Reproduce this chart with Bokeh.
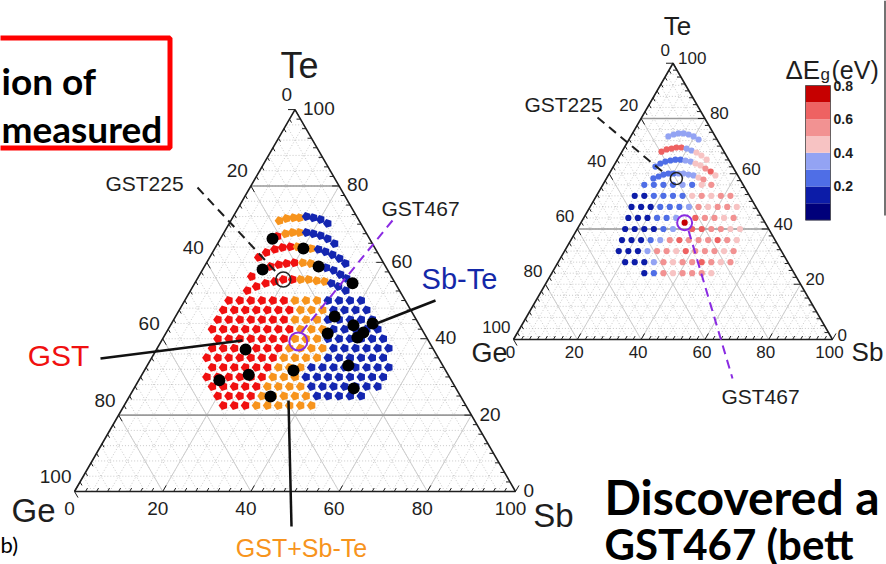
import numpy as np
from bokeh.plotting import figure
from bokeh.models import Range1d, LinearColorMapper, ColumnDataSource
from bokeh.embed import file_html
from bokeh.resources import INLINE
from bokeh.core.properties import value

# ======================= DATA =======================
axis_ticks = [0, 20, 40, 60, 80, 100]

# ---- left map: phase found at each library composition (Sb at.%, Te at.%; Ge = rest)
gst_arc_sb = [12.6, 11.1, 12.2, 13.7, 15.2, 16.9, 12.0, 15.0, 16.6, 18.2, 19.9, 12.9, 14.4, 16.1, 17.9, 19.6, 21.7]
gst_arc_te = [66.8, 61.3, 62.6, 63.4, 63.9, 64.1, 56.3, 58.9, 59.4, 59.7, 59.9, 52.6, 53.7, 54.5, 55.0, 55.5, 55.5]
mix_arc_sb = [11.0, 12.3, 13.8, 15.2, 14.1, 15.5, 17.1, 18.5, 21.9, 21.8, 23.7, 23.5, 25.3, 27.3, 29.2]
mix_arc_te = [70.9, 71.5, 71.7, 71.7, 67.5, 67.8, 67.8, 64.1, 63.6, 59.9, 59.7, 55.5, 55.5, 55.2, 55.0]
sbte_arc_sb = [16.6, 18.3, 20.2, 22.3, 18.7, 20.4, 22.3, 24.3, 26.5, 23.6, 25.5, 27.5, 29.6, 31.6,
               27.8, 29.8, 31.9, 33.8, 31.0, 33.0, 35.2]
sbte_arc_te = [72.0, 71.7, 71.2, 70.2, 67.8, 67.5, 67.0, 66.2, 64.9, 63.4, 62.8, 62.0, 61.0, 59.7,
               58.6, 57.9, 56.8, 55.8, 54.5, 53.7, 52.6]

row_te = [50, 47.5, 45, 42.5, 40, 37.5, 35, 32.5, 30, 27.5, 25, 22.5]
gst_row_sb = [
    [10, 12.5, 15, 17.5, 20, 22.5],
    [10, 12.5, 15, 17.5, 20, 22.5, 25],
    [10, 12.5, 15, 17.5, 20, 22.5, 25],
    [10, 12.5, 15, 17.5, 20, 22.5, 25, 27.5],
    [12.5, 15, 17.5, 20, 22.5, 25, 27.5],
    [12.5, 15, 17.5, 20, 22.5, 25, 27.5],
    [12.5, 15, 17.5, 20, 22.5, 25, 27.5],
    [15, 17.5, 20, 22.5, 25, 27.5],
    [15, 17.5, 20, 22.5, 25, 27.5],
    [17.5, 20, 22.5, 25, 27.5],
    [20, 22.5, 25, 27.5],
    [22.5, 25, 27.5],
]
mix_row_sb = [
    [25, 27.5, 30],
    [27.5, 30, 32.5],
    [27.5, 30, 32.5],
    [30, 32.5, 35],
    [30, 32.5, 35],
    [30, 32.5, 35, 37.5],
    [30, 32.5, 35, 37.5],
    [30, 32.5, 35],
    [30, 32.5, 35],
    [30, 32.5, 35, 37.5],
    [30, 32.5, 35, 37.5, 40],
    [30, 32.5, 35, 37.5, 40, 42.5],
]
sbte_row_sb = [
    [32.5, 35, 37.5, 40],
    [35, 37.5, 40, 42.5],
    [35, 37.5, 40, 42.5, 45],
    [37.5, 40, 42.5, 45, 47.5],
    [37.5, 40, 42.5, 45, 47.5, 50],
    [40, 42.5, 45, 47.5, 50, 52.5],
    [40, 42.5, 45, 47.5, 50, 52.5],
    [37.5, 40, 42.5, 45, 47.5, 50, 52.5, 55],
    [37.5, 40, 42.5, 45, 47.5, 50, 52.5, 55],
    [40, 42.5, 45, 47.5, 50, 52.5, 55],
    [42.5, 45, 47.5, 50, 52.5],
    [],
]
meas_sb = [11.8, 20.1, 13.6, 25.9, 35.8, 36.1, 41.5, 45.6, 44.7, 44.0, 36.7, 20.2, 45.6, 33.8, 18.3, 24.2, 49.8, 32.0]
meas_te = [66.2, 63.6, 58.1, 58.9, 54.5, 45.8, 43.5, 44.0, 41.6, 40.3, 41.4, 37.2, 33.0, 31.7, 29.1, 30.6, 27.0, 24.9]
gst225_left = (19.6, 55.5)
gst467_left = (31.1, 39.3)

# ---- right map: band-gap change dEg (eV) at each composition
eg_arc_sb = [
    [11.8, 13.1, 14.4, 16.0, 17.8, 19.7, 21.8],
    [12.4, 13.6, 15.0, 16.3, 17.9, 19.7, 21.6, 23.5, 25.6, 28.0],
    [13.2, 14.2, 15.4, 16.8, 18.2, 19.8, 21.5, 23.3, 25.2, 27.1, 29.2, 31.4, 33.6],
    [14.7, 16.0, 17.2, 18.5, 20.1, 21.7, 23.2, 25.0, 26.7, 28.7, 30.6],
]
eg_arc_te = [
    [73.5, 74.2, 74.6, 74.6, 74.2, 73.5, 72.4],
    [68.0, 68.8, 69.1, 69.5, 69.5, 69.1, 68.4, 67.7, 66.6, 65.1],
    [62.6, 63.7, 64.4, 64.8, 65.1, 65.1, 64.8, 64.4, 63.7, 63.0, 61.9, 60.8, 59.4],
    [58.3, 59.0, 59.7, 60.1, 60.1, 60.1, 60.1, 59.7, 59.4, 58.6, 57.9],
]
eg_arc_val = [
    [0.35, 0.35, 0.35, 0.35, 0.35, 0.35, 0.35],
    [0.65, 0.65, 0.65, 0.65, 0.65, 0.35, 0.35, 0.45, 0.45, 0.45],
    [0.25, 0.25, 0.25, 0.25, 0.25, 0.25, 0.35, 0.35, 0.45, 0.45, 0.55, 0.65, 0.45],
    [0.25, 0.25, 0.25, 0.25, 0.25, 0.35, 0.35, 0.35, 0.35, 0.45, 0.55],
]
eg_row_te = [56, 52, 48, 44, 40, 36, 32, 28, 24]
eg_row_sb = [
    [13, 16, 19, 22, 25, 28, 31, 34],
    [12, 15, 18, 21, 24, 27, 30, 33, 36, 39, 42],
    [13, 16, 19, 22, 25, 28, 31, 34, 37, 40, 43, 46],
    [14, 17, 20, 23, 26, 29, 35, 38, 41, 44, 47],
    [15, 18, 21, 24, 27, 30, 36, 39, 42, 45, 48, 51],
    [16, 19, 22, 25, 28, 31, 34, 37, 40, 43, 46, 49, 52],
    [17, 20, 23, 26, 29, 32, 35, 38, 41, 44, 47, 50, 53],
    [21, 24, 27, 30, 33, 36, 39, 42, 45, 48, 51, 54],
    [29, 32, 35, 38, 41, 44, 47, 50],
]
eg_row_val = [
    [0.25, 0.25, 0.25, 0.25, 0.35, 0.25, 0.45, 0.55],
    [0.15, 0.15, 0.25, 0.25, 0.25, 0.25, 0.45, 0.55, 0.45, 0.55, 0.55],
    [0.15, 0.15, 0.15, 0.25, 0.25, 0.25, 0.35, 0.55, 0.45, 0.55, 0.55, 0.45],
    [0.15, 0.15, 0.15, 0.25, 0.25, 0.35, 0.65, 0.55, 0.55, 0.45, 0.55],
    [0.15, 0.15, 0.15, 0.15, 0.25, 0.35, 0.65, 0.65, 0.55, 0.55, 0.45, 0.45],
    [0.15, 0.15, 0.15, 0.25, 0.35, 0.55, 0.65, 0.55, 0.55, 0.55, 0.65, 0.55, 0.45],
    [0.15, 0.15, 0.15, 0.35, 0.55, 0.55, 0.45, 0.65, 0.55, 0.55, 0.55, 0.45, 0.55],
    [0.15, 0.15, 0.15, 0.35, 0.55, 0.45, 0.55, 0.55, 0.65, 0.55, 0.45, 0.55],
    [0.15, 0.25, 0.55, 0.45, 0.55, 0.55, 0.55, 0.45],
]
gst225_right = (21.9, 58.3)
gst467_right = (32.5, 42.3)
gst467_right_val = 0.75

cbar_edges = [0.0, 0.1, 0.2, 0.3, 0.4, 0.5, 0.6, 0.7, 0.8]
cbar_colors = ["#00007a", "#0c1ca8", "#4f6ee6", "#93a3f3", "#f7c3c3", "#f29292", "#ee6262", "#c60000"]
cbar_ticks = [0.2, 0.4, 0.6, 0.8]

# ======================= LAYOUT =======================
W, H = 886, 564
K1, O1 = 4.41, (74.0, 491.0)     # left triangle: px per at.%, Ge corner on canvas
K2, O2 = 3.19, (513.0, 339.0)    # right triangle
S3 = np.sqrt(3) / 2
FONT = "Liberation Sans"
RED, ORANGE, BLUE = "#f01010", "#f7941d", "#1426b0"
PURPLE = "#8a2be2"
CB_Y08, CB_PX_PER_EV = 85.0, 168.3

p = figure(width=W, height=H, output_backend="svg", toolbar_location=None,
           x_range=Range1d(-O1[0] / K1, (W - O1[0]) / K1),
           y_range=Range1d(-(H - O1[1]) / K1, O1[1] / K1),
           x_axis_location=None, y_axis_location=None, min_border=0,
           outline_line_color=None, background_fill_color="white", border_fill_color="white")
p.grid.visible = False
p.extra_x_ranges = {"r": Range1d(-O2[0] / K2, (W - O2[0]) / K2), "px": Range1d(0, W)}
p.extra_y_ranges = {"r": Range1d(-(H - O2[1]) / K2, O2[1] / K2), "px": Range1d(H, 0),
                    "cb": Range1d(0.8 - (H - CB_Y08) / CB_PX_PER_EV, 0.8 + CB_Y08 / CB_PX_PER_EV)}
PX = dict(x_range_name="px", y_range_name="px")


def tc(sb, te):
    sb = np.asarray(sb, dtype=float)
    te = np.asarray(te, dtype=float)
    return sb + te / 2.0, te * S3


def flat_rows(levels, rows):
    s, t = [], []
    for lv, r in zip(levels, rows):
        s += list(r)
        t += [lv] * len(r)
    return s, t


def ternary(rn, k, fs, off_l, off_r, off_b, hlines):
    kw = dict(x_range_name=rn, y_range_name=rn)
    gx, gy = [], []
    for v in range(4, 100, 4):
        for s0, t0, s1, t1 in [(0, v, 100 - v, v), (v, 0, v, 100 - v), (100 - v, 0, 0, 100 - v)]:
            x0, y0 = tc(s0, t0)
            x1, y1 = tc(s1, t1)
            gx.append([x0, x1]); gy.append([y0, y1])
    p.multi_line(gx, gy, line_color="#bcbcbc", line_width=0.8, line_dash="1 2", **kw)
    sx, sy = [], []
    for v in axis_ticks[1:-1]:
        for s0, t0, s1, t1 in [(v, 0, v, 100 - v), (100 - v, 0, 0, 100 - v)]:
            x0, y0 = tc(s0, t0)
            x1, y1 = tc(s1, t1)
            sx.append([x0, x1]); sy.append([y0, y1])
    p.multi_line(sx, sy, line_color="#cdcdcd", line_width=1, **kw)
    hx, hy = [], []
    for v in hlines:
        x0, y0 = tc(0, v)
        x1, y1 = tc(100 - v, v)
        hx.append([x0, x1]); hy.append([y0, y1])
    p.multi_line(hx, hy, line_color="#9a9a9a", line_width=1.6, **kw)
    ex, ey = tc([0, 100, 0, 0], [0, 0, 100, 0])
    p.line(ex, ey, line_color="#1e1e1e", line_width=1.6, **kw)
    tx, ty = [], []
    for v in np.arange(0, 100.01, 2.5):
        L = (7.0 if v % 20 == 0 else 4.0) / k
        x0, y0 = tc(v, 0); tx.append([x0, x0 + L * 0.5]); ty.append([y0, y0 + L * S3])
        x0, y0 = tc(0, 100 - v); tx.append([x0, x0 + L * 0.5]); ty.append([y0, y0 - L * S3])
        x0, y0 = tc(100 - v, v); tx.append([x0, x0 - L]); ty.append([y0, y0])
    p.multi_line(tx, ty, line_color="#1e1e1e", line_width=1.0, **kw)
    labs = [str(v) for v in axis_ticks]
    n = len(axis_ticks)
    common = dict(text_font=value(FONT), text_font_size=fs, text_color="#1e1e1e", **kw)
    lx, ly = tc([0] * n, [100 - v for v in axis_ticks])
    p.text(lx, ly, text=labs, text_align="right", text_baseline="middle",
           x_offset=off_l[0], y_offset=off_l[1], **common)
    rx, ry = tc([100 - v for v in axis_ticks], axis_ticks)
    p.text(rx, ry, text=labs, text_align="left", text_baseline="middle",
           x_offset=off_r[0], y_offset=off_r[1], **common)
    bx, by = tc(axis_ticks, [0] * n)
    p.text(bx, by, text=labs, text_align="center", text_baseline="top",
           x_offset=off_b[0], y_offset=off_b[1], **common)


def pentagons(sb, te, color):
    x, y = tc(sb, te)
    try:
        p.ngon(x=x, y=y, radius=4.7, radius_units="screen", n=5, angle=np.pi / 2,
               fill_color=color, line_color=None)
    except Exception:
        p.scatter(x, y, marker="hex", size=9, fill_color=color, line_color=None)


# ---------------- left ternary ----------------
ternary("default", K1, "19px", (-3, -15), (8, -1), (-5, 10), [20, 80])

for arc_s, arc_t, rows, col in [(gst_arc_sb, gst_arc_te, gst_row_sb, RED),
                                (mix_arc_sb, mix_arc_te, mix_row_sb, ORANGE),
                                (sbte_arc_sb, sbte_arc_te, sbte_row_sb, BLUE)]:
    rs, rt = flat_rows(row_te, rows)
    pentagons(list(arc_s) + rs, list(arc_t) + rt, col)

mx, my = tc(meas_sb, meas_te)
p.scatter(mx, my, marker="circle", size=12, fill_color="black", line_color=None)
gx_, gy_ = tc(*gst225_left)
p.scatter([gx_], [gy_], marker="circle", size=15, fill_color=None, line_color="#222222", line_width=1.6)
gx_, gy_ = tc(*gst467_left)
p.scatter([gx_], [gy_], marker="circle", size=18, fill_color=None, line_color=PURPLE, line_width=2)

# ---------------- right ternary ----------------
RK = dict(x_range_name="r", y_range_name="r")
ternary("r", K2, "17px", (-3, -13), (5, -5), (-3, 6), [40, 80])
mapper = LinearColorMapper(palette=cbar_colors, low=cbar_edges[0], high=cbar_edges[-1])
es, et, ev = [], [], []
for a, b, c in zip(eg_arc_sb, eg_arc_te, eg_arc_val):
    es += a; et += b; ev += c
rs, rt = flat_rows(eg_row_te, eg_row_sb)
es += rs; et += rt
for c in eg_row_val:
    ev += c
es.append(gst467_right[0]); et.append(gst467_right[1]); ev.append(gst467_right_val)
ex_, ey_ = tc(es, et)
src = ColumnDataSource(dict(x=ex_, y=ey_, v=ev))
p.scatter("x", "y", source=src, marker="circle", size=6.2, line_color=None,
          fill_color={"field": "v", "transform": mapper}, **RK)
hx_, hy_ = tc(*gst225_right)
p.scatter([hx_], [hy_], marker="circle", size=12, fill_color=None, line_color="#222222", line_width=1.5, **RK)
hx_, hy_ = tc(*gst467_right)
p.scatter([hx_], [hy_], marker="circle", size=15, fill_color=None, line_color=PURPLE, line_width=2, **RK)

# colour bar
p.quad(left=805, right=830, bottom=cbar_edges[:-1], top=cbar_edges[1:], fill_color=cbar_colors,
       line_color=None, x_range_name="px", y_range_name="cb")
p.quad(left=[805], right=[830], bottom=[cbar_edges[0]], top=[cbar_edges[-1]], fill_color=None,
       line_color="#444444", line_width=0.8, x_range_name="px", y_range_name="cb")
p.text([833] * len(cbar_ticks), cbar_ticks, text=["%.1f" % t for t in cbar_ticks],
       text_align="left", text_baseline="middle", text_font=value(FONT), text_font_size="14px",
       text_font_style="bold", text_color="#1e1e1e", x_range_name="px", y_range_name="cb")
p.line([884.5, 884.5], [0, 215], line_color="#444444", line_width=1.5, **PX)


def lbl(x, y, t, fs, col="#1e1e1e", align="center", base="middle", font=FONT, style="normal"):
    p.text([x], [y], text=[t], text_font=value(font), text_font_size=fs, text_color=col,
           text_align=align, text_baseline=base, text_font_style=style, **PX)


lbl(785, 69, "\u0394E", "26px", align="left", base="alphabetic")
lbl(820, 74, "g", "17px", align="left", base="alphabetic")
lbl(831, 69, "(eV)", "25px", align="left", base="alphabetic")

# ---------------- annotations ----------------
lbl(299, 65, "Te", "36px")
lbl(33, 510, "Ge", "33px")
lbl(553, 515, "Sb", "33px")
lbl(677, 25, "Te", "26px")
lbl(489, 352, "Ge", "27px")
lbl(867, 351, "Sb", "26px")

lbl(144, 183, "GST225", "21px")
lbl(420, 208, "GST467", "21px")
lbl(563, 104, "GST225", "21px")
lbl(760, 396, "GST467", "21px")
lbl(58, 355, "GST", "30px", RED)
lbl(459, 278, "Sb-Te", "29px", "#1428a8")
lbl(301, 547, "GST+Sb-Te", "25px", ORANGE)

p.multi_line([[197, 277], [597, 663]], [[187, 273], [117, 172]], line_color="#1e1e1e",
             line_width=2, line_dash="9 6", **PX)
p.multi_line([[392, 300], [688, 732]], [[220, 333], [230, 378]], line_color=PURPLE,
             line_width=2, line_dash="9 6", **PX)
p.multi_line([[435, 376], [100, 242], [288, 291]], [[300, 323], [358, 340], [400, 526]],
             line_color="#111111", line_width=2.5, **PX)

# slide texts
p.quad(left=[-30], right=[169.5], top=[37.5], bottom=[147.5], fill_color=None,
       line_color="#ff0000", line_width=5, **PX)
lbl(1, 80, "ion of", "37px", "#000000", "left", "alphabetic", "Lato", "bold")
lbl(1, 128, "measured", "37px", "#000000", "left", "alphabetic", "Lato", "bold")
lbl(604, 496, "Discovered a", "48px", "#000000", "left", "alphabetic", "Lato", "bold")
lbl(604, 543, "GST467 (bett", "42px", "#000000", "left", "alphabetic", "Lato", "bold")
lbl(0, 544, "b)", "22px", "#000000", "left", "alphabetic", "Lato", "normal")

open("out.html", "w").write(file_html(p, INLINE))
